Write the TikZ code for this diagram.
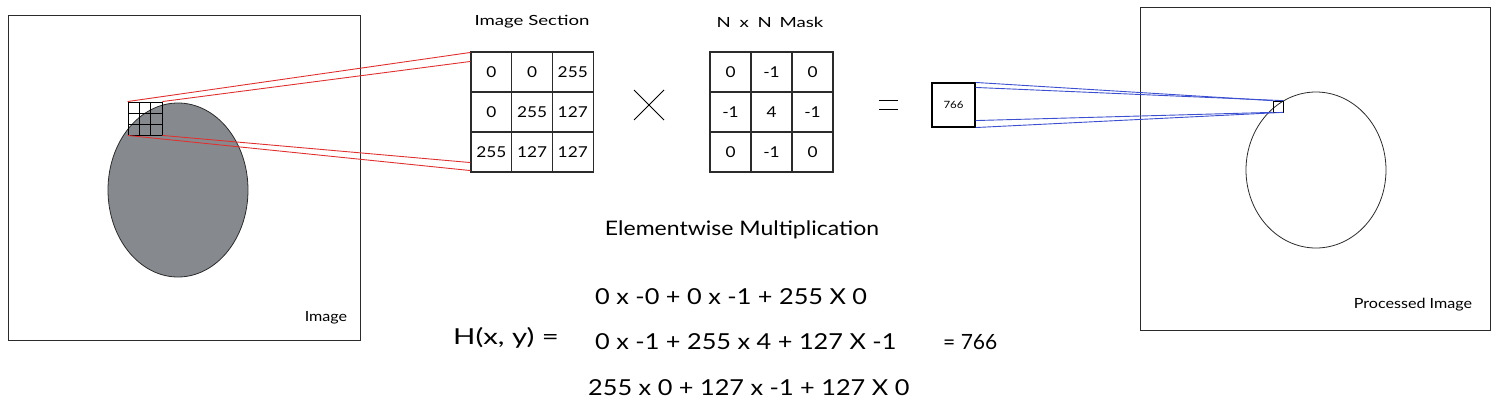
\documentclass[tikz,border=0pt]{standalone}
\usepackage{fontspec}
\setmainfont{Lato}
\newfontfamily\handwide[FakeStretch=1.33]{Lato}
\newfontfamily\handmid[FakeStretch=1.15]{Lato}
\usetikzlibrary{calc}
\definecolor{diskgray}{HTML}{868A8F}
\definecolor{linkred}{HTML}{E03131}
\definecolor{linkblue}{HTML}{3B4FD0}
\definecolor{frameline}{HTML}{2B2B2B}
\tikzset{
  frame/.style={draw=frameline, line width=0.9pt, minimum width=#1, inner sep=0pt},
  cell/.style={draw=frameline, line width=1.1pt, minimum width=40.7pt, minimum height=40pt, inner sep=0pt, font=\handmid\fontsize{15}{15}\selectfont},
  title/.style={font=\handwide\fontsize{14}{14}\selectfont},
  label/.style={font=\handmid\fontsize{14}{14}\selectfont},
  eq/.style={font=\handmid\fontsize{22}{22}\selectfont, anchor=west, inner sep=0pt},
  redlink/.style={draw=linkred, line width=0.9pt},
  bluelink/.style={draw=linkblue, line width=0.9pt},
}
\begin{document}
\begin{tikzpicture}[x=1pt,y=-1pt]
\useasboundingbox (0,0) rectangle (1500,416);
% left image
\node[frame=352pt, minimum height=325pt] (img) at (184,177.5) {};
\node[label] (imglabel) at (326,318) {Image};
\draw[frameline, fill=diskgray, line width=0.8pt] (178,190) ellipse [x radius=70, y radius=87];
% small grid
\node[draw=black, line width=0.9pt, minimum width=34pt, minimum height=33pt, inner sep=0pt] (g) at (145,118.5) {};
\draw[black, line width=0.8pt] (139.3,102) -- (139.3,135) (150.7,102) -- (150.7,135)
  (128,113) -- (162,113) (128,124) -- (162,124);
% image section
\node[title] (sectitle) at (532,22) {Image Section};
\foreach \c/\r/\v [count=\k] in {0/0/0,1/0/0,2/0/255,0/1/0,1/1/255,2/1/127,0/2/255,1/2/127,2/2/127}
  \node[cell] (s\k) at ({491.35+40.7*\c},{72+40*\r}) {\v};
% mask
\node[title] (masktitle) at (770,22) {N\hspace{4pt} x\hspace{4pt} N\hspace{3pt} Mask};
\foreach \c/\r/\v [count=\k] in {0/0/0,1/0/-1,2/0/0,0/1/-1,1/1/4,2/1/-1,0/2/0,1/2/-1,2/2/0}
  \node[cell, minimum width=41pt] (m\k) at ({730.5+41*\c},{72+40*\r}) {\v};
% red connectors
\coordinate (ra) at ($(s1.north west)+(0,1)$);
\coordinate (rb) at ($(s1.north west)+(0,10)$);
\coordinate (rc) at ($(s7.south west)+(0,-10)$);
\coordinate (rd) at ($(s7.south west)+(0,-2)$);
\draw[redlink] (g.north west) -- (ra);
\draw[redlink] (g.north east) -- (rb);
\draw[redlink] (g.south east) -- (rc);
\draw[redlink] (g.south west) -- (rd);
% operators
\draw[black, line width=0.9pt] (634,90) -- (664,120) (664,90) -- (634,120);
\draw[black, line width=0.9pt] (879,100) -- (898,100) (879,109) -- (898,109);
% result box
\node[draw=black, line width=1.1pt, minimum width=43pt, minimum height=44pt, inner sep=0pt, font=\handmid\fontsize{10}{10}\selectfont] (res) at (953.5,105) {766};
% right image
\node[frame=350pt, minimum height=323pt] (pimg) at (1315,168.5) {};
\node[label] (pimglabel) at (1413,305) {Processed Image};
\draw[frameline, line width=0.8pt] (1316,170) ellipse [x radius=70, y radius=78];
\node[draw=black, line width=0.7pt, minimum width=10pt, minimum height=11pt, inner sep=0pt] (px) at (1278,106.5) {};
% blue connectors
\draw[bluelink] (res.north east) -- (px.north west);
\draw[bluelink] ($(res.north east)+(0,5)$) -- (px.north east);
\draw[bluelink] ($(res.south east)+(0,-7)$) -- (px.south west);
\draw[bluelink] (res.south east) -- (px.south east);
% text
\node[font=\handmid\fontsize{20}{20}\selectfont] (ewm) at (742,230) {Elementwise Multiplication};
\node[eq, anchor=center, font=\handwide\fontsize{22}{22}\selectfont] (hxy) at (506,338) {H(x, y) =};
\node[eq] (l1) at (595,297) {0 x -0 + 0 x -1 + 255 X 0};
\node[eq] (l2) at (595,342) {0 x -1 + 255 x 4 + 127 X -1};
\node[eq, font=\fontsize{21}{21}\selectfont] (res2) at (943,342) {= 766};
\node[eq] (l3) at (588,388) {255 x 0 + 127 x -1 + 127 X 0};
\end{tikzpicture}
\end{document}
